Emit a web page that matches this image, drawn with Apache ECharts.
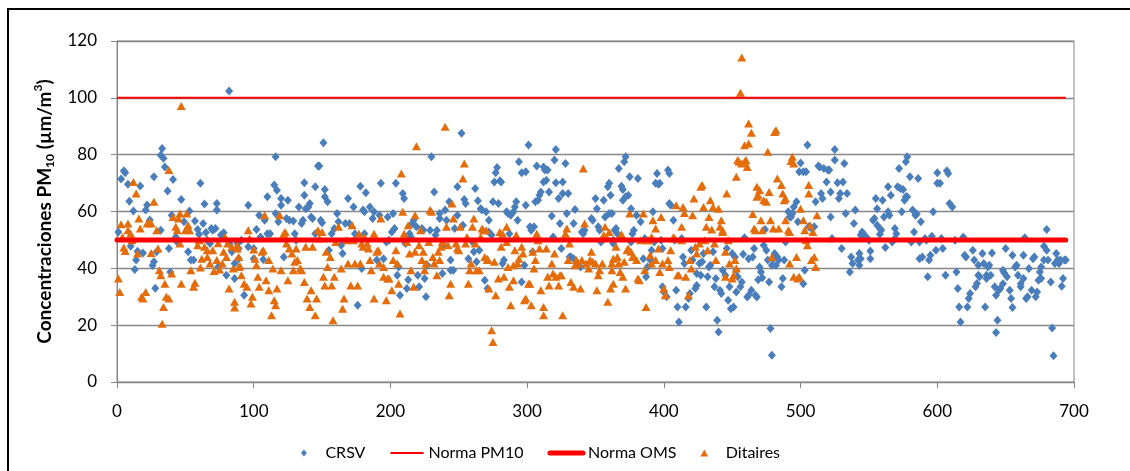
<!DOCTYPE html>
<html>
<head>
<meta charset="utf-8">
<script src="https://cdn.jsdelivr.net/npm/echarts@6/dist/echarts.min.js"></script>
<style>
html,body{margin:0;padding:0;background:#fff;}
#c{width:1130px;height:471px;}
</style>
</head>
<body>
<div id="c"></div>
<script>
// ---- data ----
const xTicks = [0, 100, 200, 300, 400, 500, 600, 700];
const yTicks = [0, 20, 40, 60, 80, 100, 120];
const seriesNames = ['CRSV', 'Norma PM10', 'Norma OMS', 'Ditaires'];
const normaPM10 = [[0, 100], [694, 100]];
const normaOMS = [[0, 50], [694, 50]];

const crsv = [
[1,52.8],[3,71.4],[5,74.3],[6,73.6],[8,69.6],[9,63.6],[10,47.8],[12,60.2],[13,39.6],[14,42.9],[15,46],[17,69],[19,45.4],[21,60.5],[22,62.3],[24,57],[26,41],[27,72.2],[27,42.3],[28,33],[29,45.8],[32,53.4],[32,79.8],[33,82.2],[34,78.7],[35,75.7],[37,67.2],[38,47],[39,38.7],[40,58.7],[41,71.3],[43,51],[44,49.3],[47,64.2],[49,56.4],[52,45.8],[53,60.2],[54,42.9],[56,42.9],[57,56.7],[59,53.7],[60,52],[61,69.9],[63,55.8],[64,62.6],[65,52.6],[66,49.9],[68,48.7],[69,54],[70,53.4],[72,54],[73,62.8],[73,60.5],[74,40.5],[76,51.7],[78,52.5],[80,37.6],[82,102.4],[82,48.7],[84,45.8],[86,41.7],[86,36.4],[89,47],
[88,48.7],[89,43.4],[91,49.9],[93,30.5],[96,62.2],[96,47.6],[100,43.4],[100,47],[102,53.7],[104,58.7],[105,51],[107,43.1],[108,56.9],[110,65.2],[110,52.2],[112,52.2],[115,69.3],[116,79.3],[117,67.5],[116,59.3],[118,56.4],[120,62.2],[120,64.6],[122,44],[124,57.5],[125,64],[126,56.9],[129,56.7],[130,52.2],[131,49.9],[133,61.6],[135,55.8],[136,56.9],[137,70.1],[137,65.7],[138,61],[140,61.6],[141,62.8],[142,58.1],[143,57.5],[145,52.2],[145,68.7],[147,76],[148,76],[149,56.9],[150,56],[151,84.2],[152,67.7],[152,65.2],[154,63.4],[155,46.4],[157,52.2],[159,54],[161,59.3],[162,56.4],[164,48.1],[165,45.2],[167,55.8],[169,64.6],[170,55.8],[173,61.6],[174,52.2],[176,27],[178,68.9],[179,39.9],
[180,60.5],[181,52.2],[181,59.9],[182,66.6],[185,61.6],[187,57.5],[188,59.9],[190,42.9],[192,58.7],[193,69.9],[195,43.4],[197,49.3],[198,58.1],[199,49.9],[201,52.8],[202,59.3],[203,54],[204,69.9],[205,37.6],[206,40.5],[207,30.5],[209,66.3],[210,64.6],[211,48.7],[212,32.9],[213,36],[214,52.2],[215,51],[216,55.8],[217,56.9],[219,54.6],[220,37.6],[221,33.5],[223,54],[224,53.4],[225,36.4],[226,30],[227,41.1],[229,53.4],[230,79.3],[232,66.9],[233,51.7],[234,53.4],[236,57.5],[236,59.3],[238,38.2],[239,48.1],[240,60.5],[241,56.9],[243,63.4],[244,42.9],[244,39.3],[246,39.3],[247,54],[249,58.7],[249,68.7],[252,87.5],[253,55.2],[254,64.2],[255,62.8],[257,43.4],[260,49.3],[261,45.8],[262,68.1],[263,42.3],[264,63.8],[265,46.4],[266,61],[267,60.5],[269,35.8],[271,32.9],
[270,59.9],[272,56.9],[272,52.8],[274,51.7],[275,63.4],[276,70.4],[277,73.6],[278,75.5],[279,62.8],[280,70.8],[281,70.4],[282,41.7],[283,42.9],[285,59.9],[286,59.3],[287,52.2],[288,58.7],[290,59.9],[291,61.6],[292,63.4],[293,56.9],[294,77.5],[296,73.6],[296,35.2],[298,41.1],[299,62.2],[299,74],[301,83.4],[302,54.6],[303,53.4],[304,45.8],[305,54.6],[306,63.4],[307,76],[308,64],[309,65.7],[310,66.9],[312,75.7],[312,70.4],[313,74.6],[314,71],[315,74.6],[316,66.9],[318,58.4],[319,51],[320,78.1],[321,81.8],[321,70.1],[323,64.6],[324,55.8],[325,47],[326,66.3],[326,70.4],[328,76.9],[329,59.3],[330,66.3],[331,44],[332,44],[334,43.4],[334,55.8],[335,60.7],[337,41.7],[339,40.5],[340,52.8],[341,52.2],[342,53.4],[347,57.5],[348,56.9],[350,64.6],[351,61],[352,54.6],[353,53.4],[354,49.3],[356,64],[357,58.1],[359,68.7],[360,59.3],[361,65.7],[363,48.7],
[360,69.9],[362,59.3],[363,49.9],[364,53.4],[365,54],[366,52.2],[367,75.1],[369,68.9],[370,67.7],[370,64],[371,77.5],[372,79.3],[372,65.2],[374,65.7],[375,72.2],[376,61],[376,49.3],[377,52.2],[378,53.4],[380,58.7],[381,71.6],[383,56.4],[385,43.4],[386,50.5],[387,37],[388,40.5],[390,42.9],[391,46.4],[392,59.9],[393,49.3],[394,69.9],[395,73.4],[396,69.6],[397,69.9],[398,49.9],[399,47],[399,33.5],[400,31.7],[402,30],[403,74.6],[404,73.4],[404,62.8],[405,62.2],[407,56.9],[408,49.9],[409,32.3],[410,26.4],[411,21.1],[413,50.5],[414,44],[415,41.7],[416,26.4],[418,29.4],[419,31.1],[420,46.4],[421,42.9],[423,32.9],[424,34],[424,38.2],[426,41.7],[427,37.6],[428,42.3],[429,45.2],[431,26.4],[432,37],[433,40.5],[434,41.1],[436,45.8],[437,33.5],[438,36.4],[439,21.7],[440,17.6],[441,32.3],[442,31.1],[443,39.3],[445,37.6],[446,47],[447,28.8],[448,33.5],[449,25.8],[450,45.2],[452,44],[453,31.7],
[451,26.4],[453,39.3],[454,37],[456,33.5],[457,35.2],[458,45],[459,50.8],[461,29.9],[462,30.5],[462,43.4],[464,32.3],[465,44],[466,47],[467,30.5],[468,29.9],[469,36],[470,40.5],[471,38.7],[472,36.7],[473,48.1],[474,53.7],[475,46.4],[476,42.9],[477,35.2],[478,18.8],[479,9.4],[479,41.1],[480,43.4],[481,45.2],[482,41.1],[483,44],[484,42.9],[486,33.5],[487,36.4],[488,42.9],[489,49.3],[491,59.9],[492,58.1],[493,58.1],[494,59.3],[495,61.6],[497,63.4],[498,56.4],[499,74],[500,77.1],[502,74],[502,34.6],[503,39.3],[504,74],[505,83.4],[506,54.6],[508,54],[510,54.6],[511,63.4],[513,76],[514,75.7],[515,66.3],[516,64.6],[517,75.1],[519,70.4],[520,74.6],[521,74.6],[522,66.9],[522,58.1],[523,50.5],[525,78.1],[525,81.8],[527,70.1],[528,64.6],[529,66.3],[530,47],[531,70.4],[532,76.9],[533,59.3],[534,66.3],[536,38.7],[537,44],[538,41.7],[539,55.8],[540,60.5],[542,42.9],[543,41.1],[544,51.7],[545,52.8],
[543,45.2],[544,43.4],[546,52.2],[548,51],[550,49.9],[551,43.4],[551,46.1],[553,56.9],[554,57.5],[555,64.6],[556,61],[556,55.2],[558,54],[558,52],[559,53.4],[560,64],[561,58.1],[562,47.3],[564,68.7],[564,59.9],[565,58.7],[566,65.7],[567,49.3],[569,50.5],[569,54],[570,52.2],[571,68.7],[572,75.1],[573,68.1],[574,59.9],[575,67.7],[576,64],[577,65.2],[578,65.2],[577,77.5],[578,79.3],[580,72.2],[581,49.3],[582,60.5],[583,52.8],[584,58.7],[585,59.1],[586,71.6],[587,49.3],[588,56.4],[587,43.4],[589,44],[591,50.5],[592,49.9],[593,37],[594,42.9],[595,44.6],[596,51.3],[597,59.9],[599,46.4],[600,73.6],[600,69.9],[602,69.9],[603,50.5],[604,47],[606,37.6],[607,74.3],[608,73.4],[609,62.8],[611,61.6],[613,49.9],[614,38.7],[615,32.9],[616,26.4],[617,21.1],[619,51],[620,44.6],[621,44],[622,26.4],[623,29.4],[624,31.1],[626,46.4],[627,42.9],[628,33.5],[629,34.7],[630,37.6],[630,41.1],[631,37],[633,45.2],[634,41.7],[635,26.4],[636,37.6],[637,40.5],
[636,36.4],[638,41.1],[639,37.6],[640,45.4],[642,33.5],[643,30.5],[643,17.4],[644,21.7],[645,32.3],[646,32.9],[648,39.3],[648,34.6],[649,38.4],[650,47],[651,37],[653,32.3],[654,29.4],[655,44.6],[655,26.2],[657,40.5],[658,41.1],[659,37.6],[661,33.5],[661,34.6],[663,44.6],[663,36.4],[664,50.8],[665,29.4],[666,30],[667,39.9],[669,32.3],[670,43.4],[671,44],[672,30],[673,31.7],[674,35.8],[675,38.7],[676,40.5],[676,36.4],[678,42.9],[678,47.8],[680,53.7],[680,46.4],[681,42.9],[683,35.2],[684,19],[685,9.2],[686,41.7],[687,45.2],[688,42.9],[689,41.7],[690,42.9],[691,33.7],[692,36.4],[693,42.9],[694,42.9]
];

const ditaires = [
[1,36.4],[2,31.7],[3,55.5],[4,51],[5,47.3],[6,46.1],[8,55.8],[8,53.4],[10,52.2],[11,49.9],[12,70.4],[14,66.3],[16,57.5],[15,45.2],[17,54],[18,30],[19,29.4],[21,31.7],[22,55.8],[24,56.4],[25,55.8],[25,45.4],[27,63.4],[29,53.4],[30,47],[31,39.3],[32,37.6],[33,20.5],[34,26.4],[35,34.6],[36,30],[38,74.6],[38,29.4],[40,38.2],[41,58.1],[43,54.6],[44,53.4],[45,57.5],[46,59.3],[47,97.1],[46,48.7],[47,34.6],[50,53.4],[51,59.3],[52,55.2],[53,53.4],[54,39.3],[56,33.5],[57,34.9],[59,48.1],[60,49.9],[61,40.3],[62,43.4],[64,47.6],[66,46.4],[66,44],[68,41.7],[70,46.4],[71,39.1],[73,42.9],[74,48.8],[75,39.6],[77,41.7],[78,45.8],[79,51],[80,44],[81,48.7],[82,32.9],[84,47.6],[85,39.9],[86,26.2],[86,28.2],[88,48.1],[89,40.5],
[88,47],[89,44],[90,40.7],[91,37.6],[93,34.6],[95,33.5],[96,53.4],[97,50.5],[98,27.6],[99,30],[100,46.6],[101,43.4],[102,41.1],[103,37],[104,33.5],[106,45.8],[107,46.4],[108,58.7],[109,35.8],[111,42.9],[111,32.3],[113,23.5],[114,39.9],[115,28.8],[116,27],[117,32.9],[119,58.7],[120,39.3],[122,52.2],[123,52.8],[124,48.7],[125,35.8],[126,47],[128,45.2],[129,39.3],[130,42.3],[131,47],[132,42.9],[134,39.9],[135,39.3],[137,35.2],[138,47.6],[139,29.4],[141,26.4],[142,32.3],[143,47.6],[145,23.5],[146,29.4],[147,53.4],[148,50.5],[150,52.8],[151,37],[152,34],[153,45.8],[154,40.5],[156,44],[157,34],[158,21.7],[159,37],[160,49.3],[162,54.6],[164,39.9],[165,25.8],[166,29.4],[168,49.9],[169,41.7],[171,34],[172,55.2],[173,49.9],[174,41.7],[176,34],[177,52.2],[178,41.7],[179,48.7],
[180,47.6],[181,51],[183,48.7],[184,47],[185,42.9],[186,39.3],[188,52.2],[188,29.4],[190,45.8],[191,46.4],[192,41.7],[193,57.5],[195,37],[195,40.5],[197,28.8],[198,36.4],[199,36.4],[201,32.3],[202,42.9],[204,46.4],[205,41.7],[206,34.6],[207,24.1],[208,73.4],[209,59.9],[210,52.2],[212,49.3],[213,55.2],[214,45.2],[215,39.3],[217,33.5],[218,45.8],[218,58.7],[219,83],[221,48.1],[222,53.4],[223,42.9],[224,45.8],[225,39.3],[226,41.7],[228,49.3],[229,60.5],[230,59.9],[231,44],[232,41.7],[234,37.6],[235,45.8],[236,42.9],[237,47.6],[238,49.3],[240,89.8],[241,54.6],[242,48.1],[243,30.5],[244,34.6],[245,62.8],[246,57.5],[248,48.7],[249,47],[250,46.4],[251,54.6],[253,71.6],[254,76.9],[255,48.7],[256,51],[257,34.6],[258,39.3],[259,41.7],[260,54.6],[261,57.5],[262,48.7],[263,39.3],[265,39.3],[266,51],[267,54],[268,53.4],[269,44],[271,42.9],
[270,53.4],[271,43.4],[272,32.9],[274,18.2],[275,14.1],[276,42.3],[277,30.5],[279,36.4],[280,52.8],[281,47.6],[282,52.2],[283,37],[285,49.3],[285,54.6],[286,40.5],[287,33.5],[288,27],[290,35.8],[290,41.1],[291,46.4],[292,51.7],[293,41.7],[294,43.4],[296,47.6],[297,45.2],[298,28.8],[299,29.4],[301,34.6],[302,34.6],[303,27],[304,45.8],[305,39.9],[306,42.9],[307,52.2],[308,49.9],[309,47],[310,32.3],[312,26.4],[312,23.5],[314,47],[315,37],[316,34],[318,41.7],[319,38.2],[320,45.2],[321,37],[323,34],[324,37.6],[325,37.6],[326,23.5],[328,52.2],[329,54],[330,42.9],[331,48.7],[332,35.2],[334,33.5],[335,41.1],[336,42.9],[337,41.7],[339,32.9],[340,42.9],[341,75.1],[342,55.8],[343,41.7],[345,39.9],[346,42.9],[347,45.8],[348,42.3],[350,41.7],[351,32.3],[352,37.6],[353,39.3],[355,41.7],[356,51.7],[357,54.6],[358,51],[359,28.2],[361,32.9],[362,41.7],[363,43.4],
[360,52.8],[362,39.3],[363,34.6],[365,47.6],[366,44],[367,41.7],[368,38.7],[369,52],[370,37],[371,42.3],[372,32.9],[373,46.4],[374,47],[375,59.3],[376,45.8],[377,44],[378,44],[380,42.9],[381,36.4],[382,35.8],[383,49.9],[385,59.3],[386,39.3],[387,26.4],[388,49.9],[389,49.9],[390,44.6],[391,41.7],[391,51],[392,56.9],[394,54],[394,42.9],[396,47],[397,38.7],[398,58.1],[399,41.7],[400,32.9],[401,30.5],[403,42.9],[404,40.5],[405,46.4],[407,51],[408,50.5],[409,62.2],[410,37.6],[411,37.6],[413,49.9],[413,54.6],[414,61.6],[415,59.5],[416,37],[418,30.5],[419,42.9],[420,39.9],[421,58.7],[422,64.6],[423,47.6],[424,45.2],[426,48.7],[427,68.7],[428,69.3],[429,61.6],[430,49.9],[431,54.6],[432,46.4],[433,58.1],[434,64],[435,53.7],[436,61.6],[437,48.7],[438,42.9],[440,61],[441,54.6],[442,56.9],[443,53.4],[443,52.8],[445,37],[445,45.8],[446,66.3],[447,49.9],[448,41.7],[450,36.4],[451,37.6],[452,42.9],[453,39.9],
[457,114.2],[456,101.8],[453,72.2],[454,78.1],[455,77.5],[457,76.9],[459,77.5],[460,78.1],[461,75.7],[462,91],[464,87.7],[459,83.3],[462,83.9],[465,59.1],[466,54],[467,53.4],[468,68.7],[469,65.7],[470,67.5],[468,65.2],[471,56.9],[472,53.4],[473,64],[475,63.4],[476,81],[477,66.9],[478,56.9],[480,54],[481,88],[482,88.6],[479,44],[483,71.6],[484,54],[486,69.3],[487,66.3],[488,64],[489,56.9],[489,64.6],[491,53.4],[492,52.8],[493,77.8],[494,79.3],[495,76.9],[492,41.7],[495,37],[497,44],[498,36.4],[499,37],[500,61],[502,56.9],[503,53.4],[504,49.9],[505,48.1],[506,69.3],[506,66.3],[507,55.2],[508,42.9],[509,52.8],[510,44],[511,40.5],[512,58.7]
];

// ---- chart ----
const FONT = 'Lato, "Open Sans", "Liberation Sans", sans-serif';
const GRID_GRAY = '#868686';
const DIAMOND_ICON = 'path://M0,-6L5,0L0,6L-5,0Z';
const TRIANGLE_ICON = 'path://M0,-5L5.5,5L-5.5,5Z';
const chart = echarts.init(document.getElementById('c'), null, {renderer: 'canvas'});

chart.setOption({
  animation: false,
  backgroundColor: '#ffffff',
  textStyle: {fontFamily: FONT},
  graphic: [{
    type: 'rect',
    shape: {x: 8, y: 9, width: 1140, height: 480},
    style: {fill: 'none', stroke: '#000', lineWidth: 2},
    silent: true, z: 100
  }],
  grid: {
    left: 117, right: 56, top: 41, bottom: 89,
    show: true, borderColor: GRID_GRAY, borderWidth: 1, backgroundColor: 'transparent'
  },
  legend: {
    data: [
      {name: seriesNames[0], icon: DIAMOND_ICON, symbolKeepAspect: true},
      {name: seriesNames[1], itemStyle: {opacity: 0, color: 'rgba(0,0,0,0)', borderWidth: 0}, lineStyle: {width: 2, color: '#FF0000'}},
      {name: seriesNames[2], itemStyle: {opacity: 0, color: 'rgba(0,0,0,0)', borderWidth: 0}, lineStyle: {width: 5, color: '#FF0000'}},
      {name: seriesNames[3], icon: TRIANGLE_ICON, symbolKeepAspect: true}
    ],
    symbolKeepAspect: true,
    left: 296, top: 440,
    itemWidth: 33, itemHeight: 7, itemGap: 24,
    textStyle: {fontFamily: FONT, fontSize: 16, color: '#000'}
  },
  xAxis: {
    type: 'value', min: xTicks[0], max: xTicks[xTicks.length - 1], interval: 100,
    axisLine: {show: true, lineStyle: {color: GRID_GRAY, width: 1}},
    axisTick: {show: true, inside: false, length: 6, lineStyle: {color: GRID_GRAY}},
    axisLabel: {margin: 21, fontSize: 17, color: '#000', fontFamily: FONT},
    splitLine: {show: false}
  },
  yAxis: {
    type: 'value', min: yTicks[0], max: yTicks[yTicks.length - 1], interval: 20,
    axisLine: {show: true, lineStyle: {color: GRID_GRAY, width: 1}},
    axisTick: {show: true, inside: false, length: 6, lineStyle: {color: GRID_GRAY}},
    axisLabel: {margin: 20, fontSize: 17, color: '#000', fontFamily: FONT},
    splitLine: {show: true, lineStyle: {color: GRID_GRAY, width: 1.3}},
    name: '{b|Concentraciones PM}{sub|10}{b| (µm/m}{sup|3}{b|)}',
    nameLocation: 'middle', nameRotate: 90, nameGap: 58,
    nameTextStyle: {
      rich: {
        b: {fontFamily: FONT, fontWeight: 'bold', fontSize: 19, color: '#000', lineHeight: 24},
        sub: {fontFamily: FONT, fontWeight: 'bold', fontSize: 12, color: '#000', lineHeight: 24, verticalAlign: 'bottom', padding: [7, 0, 0, 0]},
        sup: {fontFamily: FONT, fontWeight: 'bold', fontSize: 12, color: '#000', lineHeight: 24, verticalAlign: 'top', padding: [0, 0, 7, 0]}
      }
    }
  },
  series: [
    {
      name: seriesNames[0], type: 'scatter', data: crsv,
      symbol: 'diamond', symbolSize: [8, 9],
      itemStyle: {color: '#4A7EBB', opacity: 1}
    },
    {
      name: seriesNames[1], type: 'line', data: normaPM10,
      symbol: 'none', showSymbol: false,
      lineStyle: {color: '#FF0000', width: 2},
      itemStyle: {color: '#FF0000'}
    },
    {
      name: seriesNames[2], type: 'line', data: normaOMS,
      symbol: 'none', showSymbol: false,
      lineStyle: {color: '#FF0000', width: 5, cap: 'round'},
      itemStyle: {color: '#FF0000'}
    },
    {
      name: seriesNames[3], type: 'scatter', data: ditaires,
      symbol: 'triangle', symbolSize: [9, 8],
      itemStyle: {color: '#E46C0A', opacity: 1}
    }
  ]
});
</script>
</body>
</html>
